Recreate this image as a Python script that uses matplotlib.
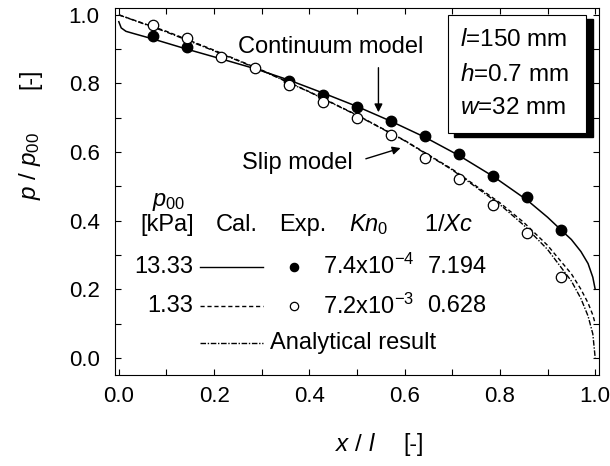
import matplotlib
matplotlib.use("Agg")
import matplotlib.pyplot as plt
from matplotlib.patches import Rectangle
from matplotlib.ticker import MultipleLocator

plt.rcParams['font.family'] = ['Liberation Sans', 'DejaVu Sans']
plt.rcParams['mathtext.fontset'] = 'custom'
plt.rcParams['mathtext.rm'] = 'Liberation Sans'
plt.rcParams['mathtext.it'] = 'Liberation Sans:italic'

# measured pressure, p00 = 13.33 kPa (filled) and 1.33 kPa (open)
x_fill = [0.071, 0.143, 0.357, 0.429, 0.500, 0.571, 0.643, 0.714, 0.786, 0.857, 0.929]
p_fill = [0.937, 0.905, 0.806, 0.767, 0.731, 0.692, 0.646, 0.593, 0.531, 0.468, 0.373]
x_open = [0.071, 0.143, 0.214, 0.286, 0.357, 0.429, 0.500, 0.571, 0.643, 0.714, 0.786, 0.857, 0.929]
p_open = [0.971, 0.933, 0.878, 0.845, 0.796, 0.747, 0.699, 0.650, 0.583, 0.521, 0.446, 0.365, 0.237]

# calculated profiles
x_cont = [0.0, 0.005, 0.015, 0.03, 0.071, 0.143, 0.214, 0.286, 0.357, 0.429, 0.5, 0.571,
          0.643, 0.714, 0.786, 0.857, 0.9, 0.929, 0.95, 0.97, 0.985, 0.995, 1.0]
p_cont = [0.98, 0.962, 0.952, 0.946, 0.93, 0.9, 0.872, 0.843, 0.81, 0.772, 0.733, 0.69,
          0.643, 0.59, 0.529, 0.46, 0.41, 0.372, 0.345, 0.31, 0.275, 0.235, 0.2]
x_slip = [0.0, 0.1, 0.2, 0.3, 0.4, 0.5, 0.6, 0.7, 0.8, 0.85, 0.9, 0.95, 0.97, 0.985, 0.995, 1.0]
p_slip = [1.0, 0.952, 0.897, 0.839, 0.776, 0.708, 0.634, 0.55, 0.452, 0.395, 0.328, 0.245,
          0.2, 0.16, 0.125, 0.10]
x_anal = [0.0, 0.1, 0.2, 0.3, 0.4, 0.5, 0.6, 0.7, 0.8, 0.85, 0.9, 0.95, 0.97, 0.985, 0.995, 1.0]
p_anal = [1.0, 0.95, 0.895, 0.838, 0.775, 0.707, 0.633, 0.548, 0.447, 0.387, 0.316, 0.224,
          0.173, 0.122, 0.07, 0.0]

# table rows
p00_labels = ['13.33', '1.33']
kn_labels = [r'7.4x10$^{-4}$', r'7.2x10$^{-3}$']
xc_labels = ['7.194', '0.628']

DASH = (0, (3, 2))
DASHDOT = (0, (4, 1.2, 1, 1.2))

fig = plt.figure(figsize=(6.1, 4.66), dpi=100)
ax = fig.add_axes([115 / 610, 91 / 466, 484 / 610, 367 / 466])

ax.plot(x_cont, p_cont, color='black', lw=1.1)
ax.plot(x_slip, p_slip, color='black', lw=1.0, linestyle=DASH)
ax.plot(x_anal, p_anal, color='black', lw=1.0, linestyle=DASHDOT)
ax.plot(x_fill, p_fill, 'o', color='black', ms=7.5, zorder=3)
ax.plot(x_open, p_open, 'o', mfc='white', mec='black', mew=0.9, ms=7.5, zorder=4)

ax.set_xlim(-0.008, 1.008)
ax.set_ylim(-0.05, 1.02)
ax.xaxis.set_major_locator(MultipleLocator(0.2))
ax.xaxis.set_minor_locator(MultipleLocator(0.1))
ax.yaxis.set_major_locator(MultipleLocator(0.2))
ax.yaxis.set_minor_locator(MultipleLocator(0.1))
ax.xaxis.set_major_formatter('{x:.1f}')
ax.yaxis.set_major_formatter('{x:.1f}')
ax.tick_params(which='both', direction='in', top=True, right=True, length=4.5, width=0.8)
ax.tick_params(axis='x', labelsize=16, pad=8)
ax.tick_params(axis='y', labelsize=16, pad=11)
for s in ax.spines.values():
    s.set_linewidth(0.8)

# axis titles
fig.text(30 / 610, 1 - 166 / 466, r'$p$ / $p_{00}$', rotation=90, ha='center', va='center', fontsize=17.5)
fig.text(30 / 610, 1 - 79 / 466, '[-]', rotation=90, ha='center', va='center', fontsize=16.5)
fig.text(356 / 610, 1 - 445 / 466, r'$x$ / $l$', ha='center', va='center', fontsize=17.5)
fig.text(414 / 610, 1 - 445 / 466, '[-]', ha='center', va='center', fontsize=16.5)

# model annotations
ax.text(0.444, 0.907, 'Continuum model', ha='center', va='center', fontsize=17)
ax.annotate('', xy=(0.545, 0.708), xytext=(0.545, 0.854),
            arrowprops=dict(arrowstyle='-|>', color='black', lw=1.0, mutation_scale=12))
ax.text(0.375, 0.568, 'Slip model', ha='center', va='center', fontsize=17)
ax.annotate('', xy=(0.597, 0.614), xytext=(0.513, 0.578),
            arrowprops=dict(arrowstyle='-|>', color='black', lw=1.0, mutation_scale=12))

# channel dimensions box with drop shadow
bx0, bx1, by0, by1 = 0.690, 0.981, 0.655, 1.0
ax.add_patch(Rectangle((bx0 + 0.014, by0 - 0.012), bx1 - bx0, by1 - by0,
                       facecolor='black', edgecolor='black', zorder=5))
ax.add_patch(Rectangle((bx0, by0), bx1 - bx0, by1 - by0,
                       facecolor='white', edgecolor='black', lw=0.8, zorder=6))
for yy, s in zip([0.927, 0.825, 0.729], [r'$l$=150 mm', r'$h$=0.7 mm', r'$w$=32 mm']):
    ax.text(0.716, yy, s, ha='left', va='center', fontsize=17.5, zorder=7)

# parameter table
fs = 17
ax.text(0.105, 0.455, r'$p_{00}$', ha='center', va='center', fontsize=fs)
ax.text(0.102, 0.388, '[kPa]', ha='center', va='center', fontsize=fs)
ax.text(0.248, 0.388, 'Cal.', ha='center', va='center', fontsize=fs)
ax.text(0.387, 0.388, 'Exp.', ha='center', va='center', fontsize=fs)
ax.text(0.524, 0.388, r'$Kn_{\mathrm{0}}$', ha='center', va='center', fontsize=fs)
ax.text(0.693, 0.388, r'1/$Xc$', ha='center', va='center', fontsize=fs)

row_y = [0.266, 0.150]
row_style = ['-', DASH]
row_face = ['black', 'white']
for yy, lab, ls, fc, kn, xc in zip(row_y, p00_labels, row_style, row_face, kn_labels, xc_labels):
    ax.text(0.156, yy, lab, ha='right', va='center', fontsize=fs)
    ax.plot([0.1705, 0.303], [yy, yy], color='black', lw=1.0, linestyle=ls)
    ax.plot([0.367], [yy], 'o', mfc=fc, mec='black', mew=0.9, ms=6)
    ax.text(0.429, yy, kn, ha='left', va='center', fontsize=fs)
    ax.text(0.648, yy, xc, ha='left', va='center', fontsize=fs)
ax.plot([0.1705, 0.303], [0.043, 0.043], color='black', lw=1.0, linestyle=DASHDOT)
ax.text(0.318, 0.043, 'Analytical result', ha='left', va='center', fontsize=fs)

fig.savefig('out.png', dpi=100)
